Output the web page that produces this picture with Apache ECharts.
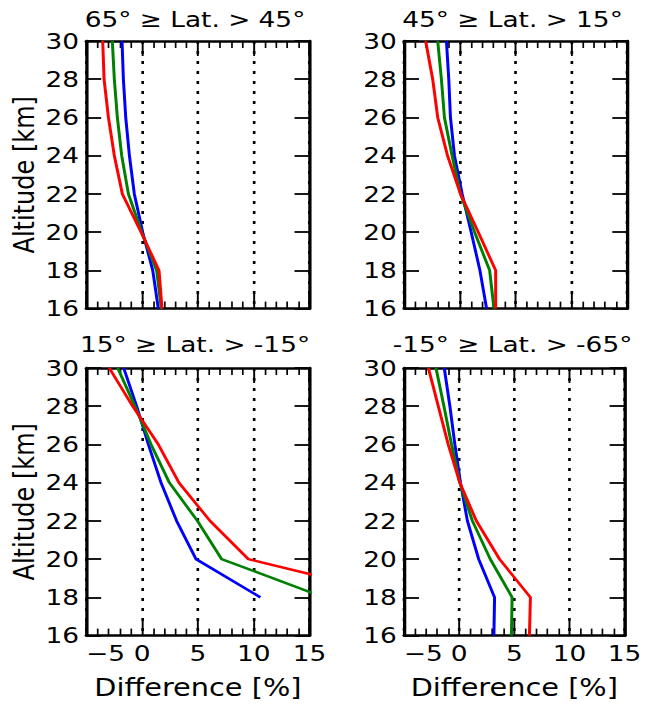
<!DOCTYPE html>
<html>
<head>
<meta charset="utf-8">
<script src="https://cdn.jsdelivr.net/npm/echarts@6/dist/echarts.min.js"></script>
<style>
html,body{margin:0;padding:0;background:#fff;overflow:hidden;}
#wrap{width:645px;height:707px;overflow:hidden;}
#chart{width:538px;height:707px;transform:scaleX(1.19888);transform-origin:0 0;}
</style>
</head>
<body>
<div id="wrap"><div id="chart"></div></div>
<script>
// ---------- data ----------
const altitudes = [30, 28, 26, 24, 22, 20, 18, 16];
const xTickValues = [-5, 0, 5, 10, 15];
const yTickValues = [16, 18, 20, 22, 24, 26, 28, 30];
const panelTitles = ['65° ≥ Lat. > 45°', '45° ≥ Lat. > 15°', '15° ≥ Lat. > -15°', '-15° ≥ Lat. > -65°'];
const xAxisTitle = 'Difference [%]';
const yAxisTitle = 'Altitude [km]';

// panel 1: 65 >= Lat > 45
const p1Blue  = [-1.79, -1.67, -1.46, -1.13, -0.69, 0.06, 0.96, 1.46];
const p1Green = [-2.66, -2.48, -2.21, -1.82, -1.22, -0.03, 1.31, 1.73];
const p1Red   = [-3.52, -3.40, -3.01, -2.48, -1.76, -0.09, 1.52, 1.79];
// panel 2: 45 >= Lat > 15
const p2Blue  = [-1.20, -0.99, -0.84, -0.48, 0.21, 1.02, 1.80, 2.40];
const p2Green = [-1.98, -1.65, -1.38, -0.69, 0.06, 1.32, 2.67, 3.06];
const p2Red   = [-3.06, -2.43, -1.98, -1.10, 0.06, 1.65, 3.21, 3.21];
// panel 3: 15 >= Lat > -15
const p3Blue  = [-1.64, -0.48, 0.57, 1.70, 3.10, 4.84, 10.6, null];
const p3Green = [-2.18, -0.63, 0.81, 2.45, 4.96, 7.13, 16.3, null];
const p3Red   = [-2.93, -0.84, 1.46, 3.31, 6.09, 9.52, 23.6, null];
// panel 4: -15 >= Lat > -65
const p4Blue  = [-1.35, -0.84, -0.39, 0.12, 0.75, 1.77, 3.21, 3.15];
const p4Green = [-2.10, -1.38, -0.69, 0.06, 1.20, 2.82, 4.80, 4.74];
const p4Red   = [-2.79, -1.89, -0.99, 0.06, 1.56, 3.66, 6.46, 6.37];

const panelSeries = [
  [p1Blue, p1Green, p1Red],
  [p2Blue, p2Green, p2Red],
  [p3Blue, p3Green, p3Red],
  [p4Blue, p4Green, p4Red]
];
const seriesColors = ['#0000ff', '#008000', '#ff0000'];

// ---------- layout (screen px, converted to local px) ----------
const S = 1.19888;
const FONT = 'DejaVu Sans';
const colLeft = [86.2, 404.0];
const plotW = 223.3;
const rowTop = [41, 368];
const plotH = 267.6;
const titleCenterX = [195, 512.5];
const titleCenterY = [19, 344];

const grids = [], xAxes = [], yAxes = [], series = [], graphics = [];
function fmtX(v) { return v < 0 ? '\u2212' + Math.abs(v) : String(v); }

for (let i = 0; i < 4; i++) {
  const col = i % 2, row = Math.floor(i / 2);
  grids.push({ left: colLeft[col] / S, top: rowTop[row], width: plotW / S, height: plotH, containLabel: false });
  const bottomRow = row === 1, leftCol = col === 0;
  const xBase = {
    type: 'value', gridIndex: i, min: xTickValues[0], max: xTickValues[xTickValues.length - 1],
    interval: xTickValues[1] - xTickValues[0],
    axisLine: { show: true, onZero: false, lineStyle: { color: '#000', width: 2.7 } },
    axisTick: { show: true, inside: true, length: 15, lineStyle: { color: '#000', width: 1.6 } },
    minorTick: { show: true, splitNumber: 5, length: 7, lineStyle: { color: '#000', width: 1.4 } }
  };
  xAxes.push(Object.assign({}, xBase, {
    position: 'bottom',
    axisLabel: { show: bottomRow, margin: 10, fontSize: 22, lineHeight: 16, fontFamily: FONT, color: '#000',
                 formatter: fmtX, alignMinLabel: 'left' },
    splitLine: { show: true, lineStyle: { color: '#000', width: 2.2, type: [3, 7] } },
    name: bottomRow ? xAxisTitle : '', nameLocation: 'middle', nameGap: 40,
    nameTextStyle: { fontSize: 24, fontFamily: FONT, color: '#000' }
  }));
  xAxes.push(Object.assign({}, xBase, {
    position: 'top', axisLabel: { show: false }, splitLine: { show: false }
  }));
  const yBase = {
    type: 'value', gridIndex: i, min: yTickValues[0], max: yTickValues[yTickValues.length - 1],
    interval: yTickValues[1] - yTickValues[0],
    axisLine: { show: true, onZero: false, lineStyle: { color: '#000', width: 2.75 } },
    axisTick: { show: true, inside: true, length: 12.5, lineStyle: { color: '#000', width: 1.8 } },
    splitLine: { show: false }
  };
  yAxes.push(Object.assign({}, yBase, {
    position: 'left',
    axisLabel: { show: true, margin: 6, fontSize: 22, lineHeight: 16, fontFamily: FONT, color: '#000' },
    name: leftCol ? yAxisTitle : '', nameLocation: 'middle', nameGap: 40, nameRotate: 90,
    nameTextStyle: { fontSize: 24, fontFamily: FONT, color: '#000' }
  }));
  yAxes.push(Object.assign({}, yBase, { position: 'right', axisLabel: { show: false } }));

  panelSeries[i].forEach((vals, k) => {
    const pts = [];
    vals.forEach((v, j) => { if (v !== null) pts.push([v, altitudes[j]]); });
    series.push({
      type: 'line', xAxisIndex: 2 * i, yAxisIndex: 2 * i, data: pts,
      showSymbol: false, symbol: 'none', clip: true, animation: false,
      lineStyle: { color: seriesColors[k], width: 2.5 }, z: 3 + k
    });
  });

  graphics.push({
    type: 'text', x: titleCenterX[col] / S, y: titleCenterY[row],
    style: { text: panelTitles[i], fontSize: 22, fontFamily: FONT, fill: '#000',
             textAlign: 'center', textVerticalAlign: 'middle', align: 'center', verticalAlign: 'middle' }
  });
}

const chart = echarts.init(document.getElementById('chart'), null, { renderer: 'svg', width: 538, height: 707 });
chart.setOption({
  animation: false,
  backgroundColor: '#fff',
  grid: grids, xAxis: xAxes, yAxis: yAxes, series: series, graphic: graphics
});
</script>
</body>
</html>
